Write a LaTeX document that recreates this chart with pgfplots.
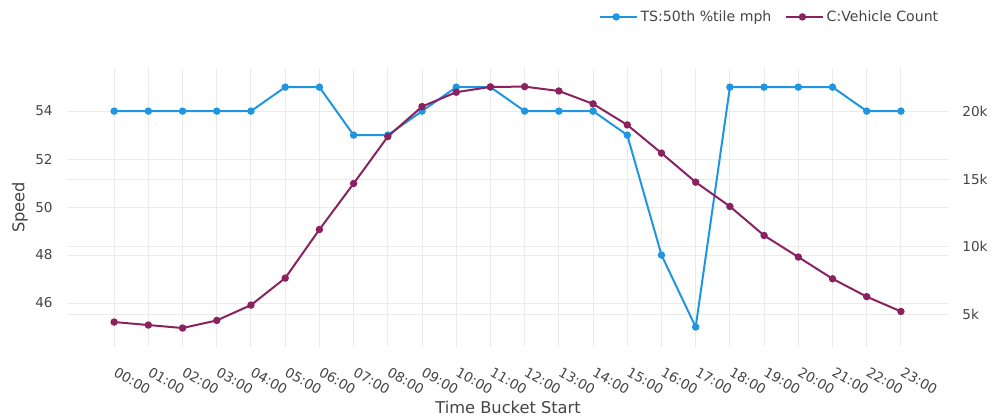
\documentclass[border=0pt]{standalone}
\usepackage{pgfplots}
\pgfplotsset{compat=1.18}
\usepackage{fontspec}
\setmainfont{DejaVu Sans}
\definecolor{tsblue}{RGB}{32,150,226}
\definecolor{vcpurple}{RGB}{138,34,96}
\definecolor{gridgray}{RGB}{235,235,235}
\definecolor{txtgray}{RGB}{68,68,68}
\pgfplotstableread{
x speed count
0 54 4460
1 54 4240
2 54 4020
3 54 4580
4 54 5710
5 55 7700
6 55 11280
7 53 14670
8 53 18130
9 54 20340
10 55 21400
11 55 21790
12 54 21810
13 54 21490
14 54 20540
15 53 18990
16 48 16910
17 45 14770
18 55 12980
19 55 10840
20 55 9250
21 55 7650
22 54 6330
23 54 5240
}\datatable
\pgfplotsset{
  common/.style={
    set layers=standard,
    scale only axis,
    width=662.25pt, height=209.25pt,
    xmin=-1.38, xmax=24.41,
    axis line style={draw=none},
    major tick length=0pt,
    grid=major,
    major grid style={color=gridgray, line width=0.75pt},
    tick label style={font=\fontsize{10.2}{12}\selectfont, text=txtgray},
    label style={font=\fontsize{12.2}{14}\selectfont, text=txtgray},
    /pgf/number format/assume math mode=true,
    scaled y ticks=false,
  }
}
\begin{document}
\begin{tikzpicture}
\begin{axis}[
  common,
  ymin=44.18, ymax=55.80,
  ytick={46,48,50,52,54},
  yticklabel style={anchor=east, xshift=-7.2pt},
  xtick={0,...,23},
  xticklabels={00:00,01:00,02:00,03:00,04:00,05:00,06:00,07:00,08:00,09:00,10:00,11:00,12:00,13:00,14:00,15:00,16:00,17:00,18:00,19:00,20:00,21:00,22:00,23:00},
  xticklabel style={xshift=1.5pt, yshift=-10pt, rotate=-30, anchor=north west},
  xlabel={Time Bucket Start},
  xlabel style={at={(axis description cs:0.5,0)}, anchor=center, yshift=-45.75pt},
  ylabel={Speed},
  ylabel style={at={(axis description cs:-0.0532,0.5)}, anchor=center},
]
\addplot[color=tsblue, line width=1.5pt, mark=*, mark size=2pt, mark options={solid, fill=tsblue, draw=tsblue}] table[x=x, y=speed] {\datatable};
\end{axis}
\begin{axis}[
  common,
  axis x line=none,
  axis y line*=right,
  xtick=\empty,
  ymin=2644, ymax=23189,
  ytick={5000,10000,15000,20000},
  yticklabels={5k,10k,15k,20k},
  yticklabel style={anchor=west, xshift=6.4pt},
  legend columns=2,
  legend style={draw=none, fill=none, at={(0.9955,1.183)}, anchor=east,
    font=\fontsize{10.6}{12}\selectfont, text=txtgray,
    /tikz/every even column/.append style={column sep=8pt}},
  legend image code/.code={\path (0pt,0pt) -- (28pt,0pt);\draw[#1, mark repeat=2, mark phase=2] plot coordinates {(0pt,0pt) (12.5pt,0pt) (25pt,0pt)};},
]
\addlegendimage{color=tsblue, line width=1.5pt, mark=*, mark size=2pt, mark options={solid, fill=tsblue, draw=tsblue}}
\addlegendentry{TS:50th \%tile mph}
\addplot[color=vcpurple, line width=1.5pt, mark=*, mark size=2pt, mark options={solid, fill=vcpurple, draw=vcpurple}] table[x=x, y=count] {\datatable};
\addlegendentry{C:Vehicle Count}
\end{axis}
\path (-50.25pt,-54.75pt) rectangle (693.75pt,260.25pt);
\end{tikzpicture}
\end{document}
